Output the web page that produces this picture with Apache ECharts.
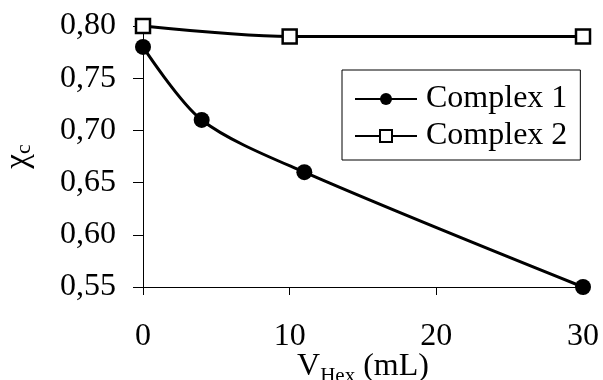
<!DOCTYPE html>
<html>
<head>
<meta charset="utf-8">
<script src="https://cdn.jsdelivr.net/npm/echarts@6/dist/echarts.min.js"></script>
<style>
  html, body { margin: 0; padding: 0; background: #fff; }
  #chart { width: 603px; height: 380px; }
</style>
</head>
<body>
<div id="chart"></div>
<script>
// data
const seriesNames = ['Complex 1', 'Complex 2'];
const complex1 = [[0, 0.78], [4, 0.71], [11, 0.66], [30, 0.55]];
const complex2 = [[0, 0.80], [10, 0.79], [30, 0.79]];
const xTicks = [0, 10, 20, 30];
const yTicks = [0.55, 0.60, 0.65, 0.70, 0.75, 0.80];

const FONT = '"Liberation Serif", "Times New Roman", serif';

const chart = echarts.init(document.getElementById('chart'), null, { renderer: 'canvas' });

chart.setOption({
  animation: false,
  backgroundColor: '#fff',
  grid: { left: 143, right: 20, top: 26, bottom: 93, containLabel: false, outerBoundsMode: 'none' },
  legend: {
    data: seriesNames,
    orient: 'vertical',
    left: 342,
    top: 70,
    padding: [13, 13, 8, 12],
    itemWidth: 62,
    itemHeight: 15,
    itemGap: 5,
    borderColor: '#000',
    borderWidth: 1,
    backgroundColor: '#fff',
    textStyle: { fontFamily: FONT, fontSize: 32, color: '#000', width: 155, padding: [0, 0, 0, 4] }
  },
  xAxis: {
    type: 'value',
    min: xTicks[0],
    max: xTicks[xTicks.length - 1],
    interval: 10,
    splitLine: { show: false },
    axisLine: { lineStyle: { color: '#000', width: 1 } },
    axisTick: { inside: false, length: 8, lineStyle: { color: '#000' } },
    axisLabel: { fontFamily: FONT, fontSize: 32, color: '#000', margin: 34 },
    name: 'V{sub|Hex} (mL)',
    nameLocation: 'middle',
    nameGap: 59,
    nameMoveOverlap: false,
    nameTextStyle: {
      fontFamily: FONT, fontSize: 32, color: '#000',
      rich: {
        sub: { fontFamily: FONT, fontSize: 21, color: '#000', verticalAlign: 'bottom', padding: [20, 0, 0, 0] }
      }
    }
  },
  yAxis: {
    type: 'value',
    min: yTicks[0],
    max: yTicks[yTicks.length - 1],
    interval: 0.05,
    splitLine: { show: false },
    axisLine: { show: true, lineStyle: { color: '#000', width: 1 } },
    axisTick: { show: true, inside: false, length: 10, lineStyle: { color: '#000' } },
    axisLabel: {
      fontFamily: FONT, fontSize: 32, color: '#000', margin: 27,
      formatter: v => v.toFixed(2).replace('.', ',')
    },
    name: 'χ{sub|c}',
    nameLocation: 'middle',
    nameRotate: 90,
    nameGap: 108,
    nameMoveOverlap: false,
    nameTextStyle: {
      fontFamily: FONT, fontSize: 33, color: '#000',
      rich: {
        sub: { fontFamily: FONT, fontSize: 22, color: '#000', verticalAlign: 'bottom', padding: [10, 0, 0, 0] }
      }
    }
  },
  series: [
    {
      name: seriesNames[0],
      type: 'line',
      data: complex1,
      smooth: 0.3,
      symbol: 'circle',
      symbolSize: 16,
      itemStyle: { color: '#000' },
      lineStyle: { color: '#000', width: 3 }
    },
    {
      name: seriesNames[1],
      type: 'line',
      data: complex2,
      smooth: 0.3,
      symbol: 'rect',
      symbolSize: 14,
      itemStyle: { color: '#fff', borderColor: '#000', borderWidth: 2.5 },
      lineStyle: { color: '#000', width: 3 }
    }
  ]
});
</script>
</body>
</html>
